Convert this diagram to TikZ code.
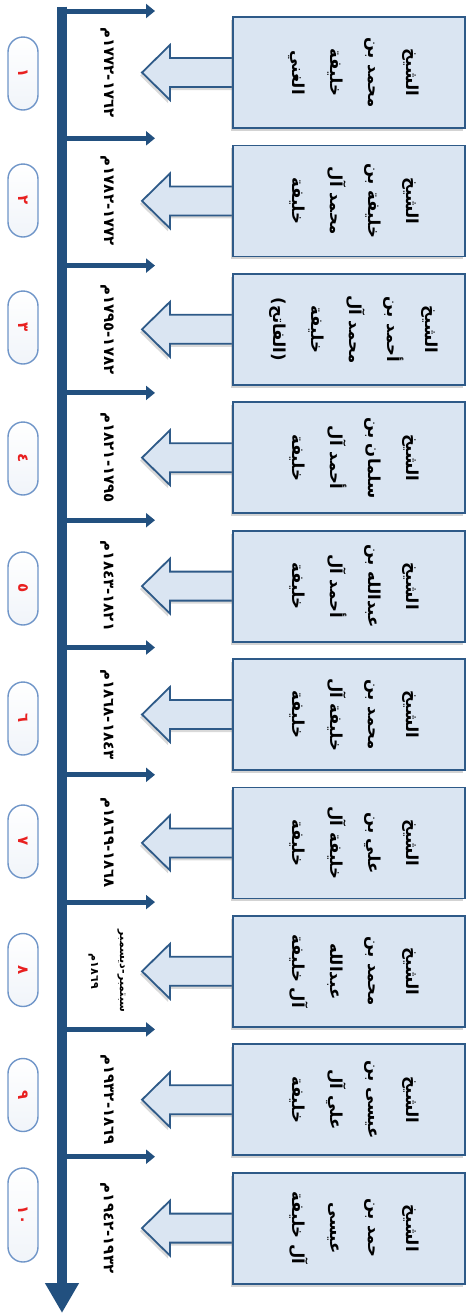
\documentclass[tikz,border=0pt]{standalone}
\usepackage{fontspec}
\TeXXeTstate=1
\newfontfamily\arabicfont[Script=Arabic]{DejaVu Sans}
\usetikzlibrary{arrows.meta,shadows}
\definecolor{axisblue}{HTML}{22507F}
\definecolor{boxfill}{HTML}{DAE5F2}
\definecolor{boxline}{HTML}{2E5A88}
\definecolor{pillline}{HTML}{6F95C8}
\definecolor{numred}{HTML}{E82020}
\newcommand{\artxt}[1]{\beginR #1\endR}
\tikzset{
  axisline/.style={draw=axisblue, line width=10pt, -{Triangle[length=30pt,width=32pt]}},
  branchline/.style={draw=axisblue, line width=5pt, -{Triangle[length=9pt,width=14pt]}},
  namebox/.style={draw=boxline, line width=1.8pt, fill=boxfill,
    minimum width=232pt, minimum height=111pt, inner sep=0pt,
    drop shadow={shadow xshift=-2pt, shadow yshift=-3pt, opacity=0.35}},
  nametext/.style={rotate=-90, inner sep=0pt, align=center,
    font=\arabicfont\bfseries\fontsize{16.5}{38}\selectfont},
  blockarrow/.style={draw=boxline, line width=1.8pt, fill=boxfill, line join=miter,
    drop shadow={shadow xshift=-2pt, shadow yshift=-3pt, opacity=0.3}},
  pill/.style={draw=pillline, line width=1.4pt, top color=white, bottom color=white!90!pillline,
    rotate=-90, rounded corners=15pt, minimum width=73pt, minimum height=30pt, inner sep=0pt,
    text=numred, font=\arabicfont\bfseries\fontsize{15}{16}\selectfont},
  datelabel/.style={rotate=-90, inner sep=0pt, align=center,
    font=\arabicfont\bfseries\fontsize{15}{17}\selectfont},
}
\begin{document}
\begin{tikzpicture}[x=1pt,y=-1pt]
\useasboundingbox (0,0) rectangle (466,1315);
% axis
\coordinate (axtop) at (62,6.5);
\coordinate (axbot) at (62,1313);
\draw[axisline] (axtop) -- (axbot);
% branches
\foreach \i in {1,...,10}{
  \pgfmathsetmacro{\by}{11+(\i-1)*127.3}
  \ifnum\i=1
    \coordinate (bs\i) at (57,\by);
  \else
    \coordinate (bs\i) at (62,\by);
  \fi
  \coordinate (bt\i) at (155,\by);
  \draw[branchline] (bs\i) -- (bt\i);
}
% boxes with block arrows
\foreach \i/\txt in {
  1/{\artxt{الشيخ}\\\artxt{محمد بن}\\\artxt{خليفة}\\\artxt{الغني}},
  2/{\artxt{الشيخ}\\\artxt{خليفة بن}\\\artxt{محمد آل}\\\artxt{خليفة}},
  3/{\artxt{الشيخ}\\\artxt{أحمد بن}\\\artxt{محمد آل}\\\artxt{خليفة}\\\artxt{(الفاتح)}},
  4/{\artxt{الشيخ}\\\artxt{سلمان بن}\\\artxt{أحمد آل}\\\artxt{خليفة}},
  5/{\artxt{الشيخ}\\\artxt{عبدالله بن}\\\artxt{أحمد آل}\\\artxt{خليفة}},
  6/{\artxt{الشيخ}\\\artxt{محمد بن}\\\artxt{خليفة آل}\\\artxt{خليفة}},
  7/{\artxt{الشيخ}\\\artxt{علي بن}\\\artxt{خليفة آل}\\\artxt{خليفة}},
  8/{\artxt{الشيخ}\\\artxt{محمد بن}\\\artxt{عبدالله}\\\artxt{آل خليفة}},
  9/{\artxt{الشيخ}\\\artxt{عيسى بن}\\\artxt{علي آل}\\\artxt{خليفة}},
  10/{\artxt{الشيخ}\\\artxt{حمد بن}\\\artxt{عيسى}\\\artxt{آل خليفة}}}{
  \pgfmathsetmacro{\cy}{72.5+(\i-1)*128.4}
  \coordinate (tip\i) at (142,\cy);
  \draw[blockarrow] (235,\cy-14.5) -- (170,\cy-14.5) -- (170,\cy-27.5)
     -- (tip\i) -- (170,\cy+27.5) -- (170,\cy+14.5) -- (235,\cy+14.5);
  \node[namebox] (box\i) at (349,\cy) {};
  \node[nametext] (name\i) at (354,\cy) {\txt};
}
% pills
\foreach \i/\py/\ph/\num in {1/73.5/73/١,2/200.5/73/٢,3/327.5/73/٣,4/458.5/73/٤,5/588.5/73/٥,
  6/718.5/73/٦,7/841.5/73/٧,8/970/73/٨,9/1095/73/٩,10/1215/94/١٠}{
  \node[pill, minimum width=\ph pt] (pill\i) at (23,\py) {\num};
}
% dates
\foreach \i/\d in {1/{١٧٦٢-١٧٧٢م},2/{١٧٧٢-١٧٨٢م},3/{١٧٨٢-١٧٩٥م},4/{١٧٩٥-١٨٢١م},5/{١٨٢١-١٨٤٣م},
  6/{١٨٤٣-١٨٦٨م},7/{١٨٦٨-١٨٦٩م},9/{١٨٦٩-١٩٣٢م},10/{١٩٣٢-١٩٤٢م}}{
  \pgfmathsetmacro{\cy}{72.5+(\i-1)*128.4}
  \node[datelabel] (date\i) at (107,\cy) {\artxt{\d}};
}
\node[datelabel, font=\arabicfont\bfseries\fontsize{11}{29}\selectfont] (date8) at (107,72.5+7*128.4)
  {\artxt{سبتمبر-ديسمبر}\\\artxt{١٨٦٩م}};
\end{tikzpicture}
\end{document}
